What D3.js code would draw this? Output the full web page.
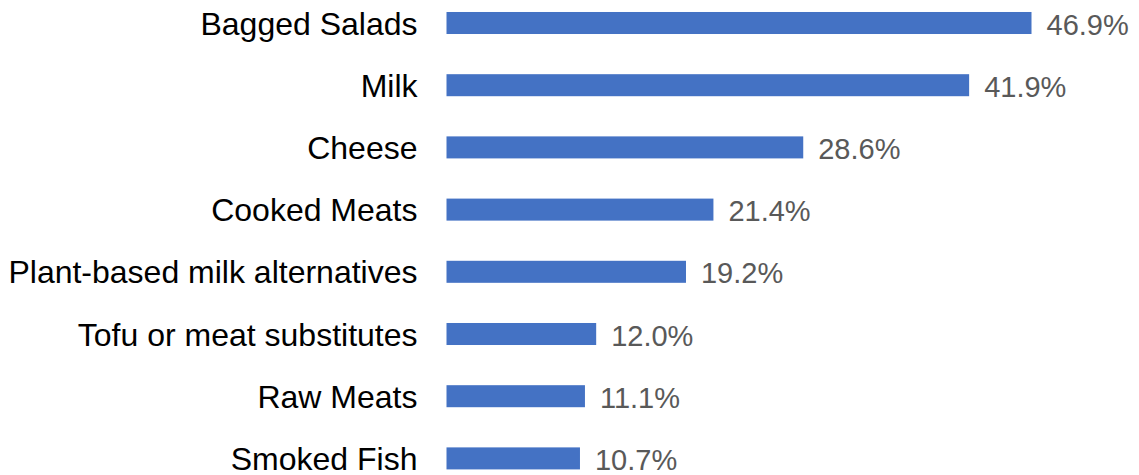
<!DOCTYPE html>
<html>
<head>
<meta charset="utf-8">
<script src="https://cdn.jsdelivr.net/npm/d3@7/dist/d3.min.js"></script>
<style>
  html, body { margin: 0; padding: 0; background: #fff; }
  svg { display: block; }
</style>
</head>
<body>
<svg id="chart" width="1139" height="475"></svg>
<script>
// Share of respondents per product category (%)
const categories = [
  "Bagged Salads",
  "Milk",
  "Cheese",
  "Cooked Meats",
  "Plant-based milk alternatives",
  "Tofu or meat substitutes",
  "Raw Meats",
  "Smoked Fish"
];
const values = [46.9, 41.9, 28.6, 21.4, 19.2, 12.0, 11.1, 10.7];

const svg = d3.select("#chart");
const left = 446.5;

const x = d3.scaleLinear()
  .domain([0, 46.9])
  .range([left, 1031.5]);

const y = d3.scaleBand()
  .domain(categories)
  .range([-8.1, 489.5])
  .paddingInner(0.646)
  .paddingOuter(0.323);

const data = categories.map((c, i) => ({ c, v: values[i] }));

// bars
svg.append("g")
  .selectAll("rect")
  .data(data)
  .join("rect")
  .attr("x", x(0))
  .attr("y", d => y(d.c))
  .attr("width", d => x(d.v) - x(0))
  .attr("height", y.bandwidth())
  .attr("fill", "#4472C4");

// category axis (left)
const yAxis = d3.axisLeft(y).tickSize(0).tickPadding(0);
const ag = svg.append("g")
  .attr("transform", `translate(${left - 29},0)`)
  .call(yAxis);
ag.select(".domain").remove();
ag.selectAll("text")
  .attr("font-family", "Liberation Sans, Arial, sans-serif")
  .attr("font-size", 32)
  .attr("fill", "#000")
  .attr("dy", "0.36em");

// value labels
svg.append("g")
  .selectAll("text")
  .data(data)
  .join("text")
  .attr("x", d => x(d.v) + 15)
  .attr("y", d => y(d.c) + y.bandwidth() / 2)
  .attr("dy", "0.4em")
  .attr("font-family", "Liberation Sans, Arial, sans-serif")
  .attr("font-size", 29)
  .attr("fill", "#595959")
  .text(d => d3.format(".1f")(d.v) + "%");
</script>
</body>
</html>
